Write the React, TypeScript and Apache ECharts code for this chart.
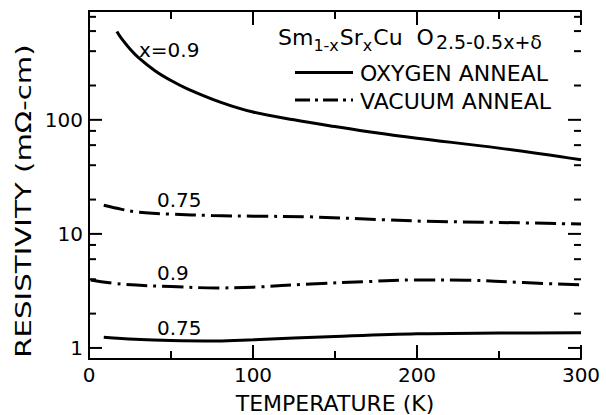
import React, { useEffect, useRef } from 'react';
import * as echarts from 'echarts';

// ---- data ----
const xTicksMajor = [0, 100, 200, 300];
const xTicksMinor = [50, 150, 250];
const yLabelValues = [1, 10, 100];
const yMinorValues = [2, 4, 6, 8, 20, 40, 60, 80, 200, 400, 600, 800];

// x = 0.9, oxygen anneal (solid)
const oxy09T = [17, 20, 25, 30, 40, 50, 60, 80, 100, 125, 150, 175, 200, 250, 300];
const oxy09R = [595, 512, 418, 353, 271, 221, 187, 143, 117, 100, 87.4, 77, 69, 56.5, 44.6];

// x = 0.75, vacuum anneal (dash-dot)
const vac075T = [9, 20, 30, 50, 75, 100, 135, 180, 205, 250, 300];
const vac075R = [17.8, 16.4, 15.5, 14.9, 14.5, 14.3, 14.1, 13.3, 12.9, 12.6, 12.2];

// x = 0.9, vacuum anneal (dash-dot)
const vac09T = [1, 20, 50, 78, 100, 135, 170, 200, 230, 265, 300];
const vac09R = [3.95, 3.62, 3.45, 3.36, 3.41, 3.64, 3.82, 3.95, 3.93, 3.74, 3.57];

// x = 0.75, oxygen anneal (solid)
const oxy075T = [9, 28, 50, 78, 100, 150, 200, 250, 300];
const oxy075R = [1.24, 1.19, 1.16, 1.15, 1.18, 1.26, 1.33, 1.35, 1.36];

const curveLabels = ['x=0.9', '0.75', '0.9', '0.75'];

const X_MIN = 0;
const X_MAX = 300;
const Y_MIN = 0.8;
const Y_MAX = 900;

const FONT = '"DejaVu Sans", sans-serif';
const BLACK = '#000';
const DASHDOT = [21, 6, 3, 6];

const pairs = (t: number[], r: number[]) => t.map((v, i) => [v, r[i]]);

export default function App() {
  const ref = useRef<HTMLDivElement>(null);
  useEffect(() => {
    if (!ref.current) return;
    const chart = echarts.init(ref.current, null, { renderer: 'svg' });

    const ls = () => ({ color: BLACK, width: 2 });
    const tickStyle = () => ({ stroke: BLACK, lineWidth: 2, fill: null });

    const xTickSeries = (values: number[], len: number) => ({
      type: 'custom',
      silent: true,
      clip: false,
      z: 5,
      xAxisIndex: 0,
      yAxisIndex: 0,
      data: values.map((v) => [v, 1]),
      encode: { x: 0, y: 1 },
      renderItem: (params: any, api: any) => {
        const v = api.value(0);
        const b = api.coord([v, Y_MIN]);
        const t = api.coord([v, Y_MAX]);
        return {
          type: 'group',
          children: [
            { type: 'line', shape: { x1: b[0], y1: b[1], x2: b[0], y2: b[1] - len }, style: tickStyle() },
            { type: 'line', shape: { x1: t[0], y1: t[1], x2: t[0], y2: t[1] + len }, style: tickStyle() },
          ],
        };
      },
    });

    const yTickSeries = (values: number[], len: number) => ({
      type: 'custom',
      silent: true,
      clip: false,
      z: 5,
      xAxisIndex: 0,
      yAxisIndex: 0,
      data: values.map((v) => [X_MIN, v]),
      encode: { x: 0, y: 1 },
      renderItem: (params: any, api: any) => {
        const v = api.value(1);
        const l = api.coord([X_MIN, v]);
        const r = api.coord([X_MAX, v]);
        return {
          type: 'group',
          children: [
            { type: 'line', shape: { x1: l[0], y1: l[1], x2: l[0] + len, y2: l[1] }, style: tickStyle() },
            { type: 'line', shape: { x1: r[0], y1: r[1], x2: r[0] - len, y2: r[1] }, style: tickStyle() },
          ],
        };
      },
    });

    const curves: any[] = [
      { data: pairs(oxy09T, oxy09R), dash: 'solid' },
      { data: pairs(vac075T, vac075R), dash: DASHDOT },
      { data: pairs(vac09T, vac09R), dash: DASHDOT },
      { data: pairs(oxy075T, oxy075R), dash: 'solid' },
    ].map((s) => ({
      type: 'line',
      data: s.data,
      xAxisIndex: 0,
      yAxisIndex: 0,
      smooth: 0.35,
      showSymbol: false,
      symbol: 'none',
      lineStyle: { color: BLACK, width: 3, type: s.dash },
      z: 3,
    }));

    const labelPos = [
      { x: 139, y: 50 },
      { x: 157, y: 200 },
      { x: 157, y: 273 },
      { x: 157, y: 328 },
    ];

    const xBase = {
      type: 'value' as const,
      min: X_MIN,
      max: X_MAX,
      interval: 100,
      splitLine: { show: false },
      minorTick: { show: false },
      axisTick: { show: false },
    };
    const yBase = {
      type: 'log' as const,
      logBase: 10,
      min: Y_MIN,
      max: Y_MAX,
      splitLine: { show: false },
      minorTick: { show: false },
      minorSplitLine: { show: false },
      axisTick: { show: false },
    };

    chart.setOption({
      animation: false,
      backgroundColor: '#fff',
      grid: { left: 89, right: 25, top: 11, bottom: 56, containLabel: false, outerBoundsMode: 'none' },
      xAxis: [
        {
          ...xBase,
          position: 'bottom',
          axisLine: { show: true, lineStyle: ls() },
          axisLabel: {
            show: true,
            margin: 6,
            color: BLACK,
            fontSize: 20,
            fontFamily: FONT,
            customValues: xTicksMajor,
          },
          name: 'TEMPERATURE (K)',
          nameLocation: 'middle',
          nameGap: 33,
          nameTextStyle: { color: BLACK, fontSize: 22, fontFamily: FONT },
        },
        {
          ...xBase,
          position: 'top',
          axisLine: { show: true, lineStyle: ls() },
          axisLabel: { show: false },
        },
      ],
      yAxis: [
        {
          ...yBase,
          position: 'left',
          axisLine: { show: true, lineStyle: ls() },
          axisLabel: {
            show: true,
            margin: 6,
            color: BLACK,
            fontSize: 20,
            fontFamily: FONT,
            customValues: yLabelValues,
            formatter: (v: number) => String(Math.round(v)),
          },
        },
        {
          ...yBase,
          position: 'right',
          axisLine: { show: true, lineStyle: ls() },
          axisLabel: { show: false },
        },
      ],
      series: [
        xTickSeries(xTicksMajor, 14),
        xTickSeries(xTicksMinor, 8),
        yTickSeries(yLabelValues, 13),
        yTickSeries(yMinorValues, 7),
        ...curves,
      ],
      graphic: [
        {
          type: 'text',
          x: 23,
          y: 201,
          rotation: Math.PI / 2,
          scaleX: 1.33,
          style: {
            text: 'RESISTIVITY (mΩ-cm)',
            fill: BLACK,
            fontSize: 22,
            fontFamily: FONT,
            align: 'center',
            verticalAlign: 'middle',
          },
        },
        ...curveLabels.map((t, i) => ({
          type: 'text',
          x: labelPos[i].x,
          y: labelPos[i].y,
          style: {
            text: t,
            fill: BLACK,
            fontSize: 20,
            fontFamily: FONT,
            align: 'left',
            verticalAlign: 'middle',
          },
        })),
        {
          type: 'text',
          x: 278,
          y: 26,
          style: {
            text: '{m|Sm}{s|1-x}{m|Sr}{s|x}{m|Cu  }{m|O}{t|2.5-0.5x+δ}',
            fill: BLACK,
            align: 'left',
            verticalAlign: 'top',
            rich: {
              m: { fontSize: 22, fontFamily: FONT, lineHeight: 22, verticalAlign: 'top', fill: BLACK },
              s: { fontSize: 16, fontFamily: FONT, lineHeight: 16, padding: [11, 1, 0, 0], verticalAlign: 'top', fill: BLACK },
              t: { fontSize: 19, fontFamily: FONT, lineHeight: 20, padding: [6, 0, 0, 2], verticalAlign: 'top', fill: BLACK },
            },
          },
        },
        {
          type: 'line',
          shape: { x1: 295, y1: 72.5, x2: 353, y2: 72.5 },
          style: { stroke: BLACK, lineWidth: 3 },
        },
        {
          type: 'text',
          x: 360,
          y: 73.5,
          style: {
            text: 'OXYGEN ANNEAL',
            fill: BLACK,
            fontSize: 22,
            fontFamily: FONT,
            align: 'left',
            verticalAlign: 'middle',
          },
        },
        {
          type: 'line',
          shape: { x1: 295, y1: 100, x2: 353, y2: 100 },
          style: { stroke: BLACK, lineWidth: 3, lineDash: [15, 5, 3, 5] },
        },
        {
          type: 'text',
          x: 360,
          y: 101.5,
          style: {
            text: 'VACUUM ANNEAL',
            fill: BLACK,
            fontSize: 22,
            fontFamily: FONT,
            align: 'left',
            verticalAlign: 'middle',
          },
        },
      ],
    });

    return () => chart.dispose();
  }, []);

  return (
    <div
      ref={ref}
      style={{ position: 'absolute', left: 0, top: 0, width: 606, height: 415, background: '#fff' }}
    />
  );
}
